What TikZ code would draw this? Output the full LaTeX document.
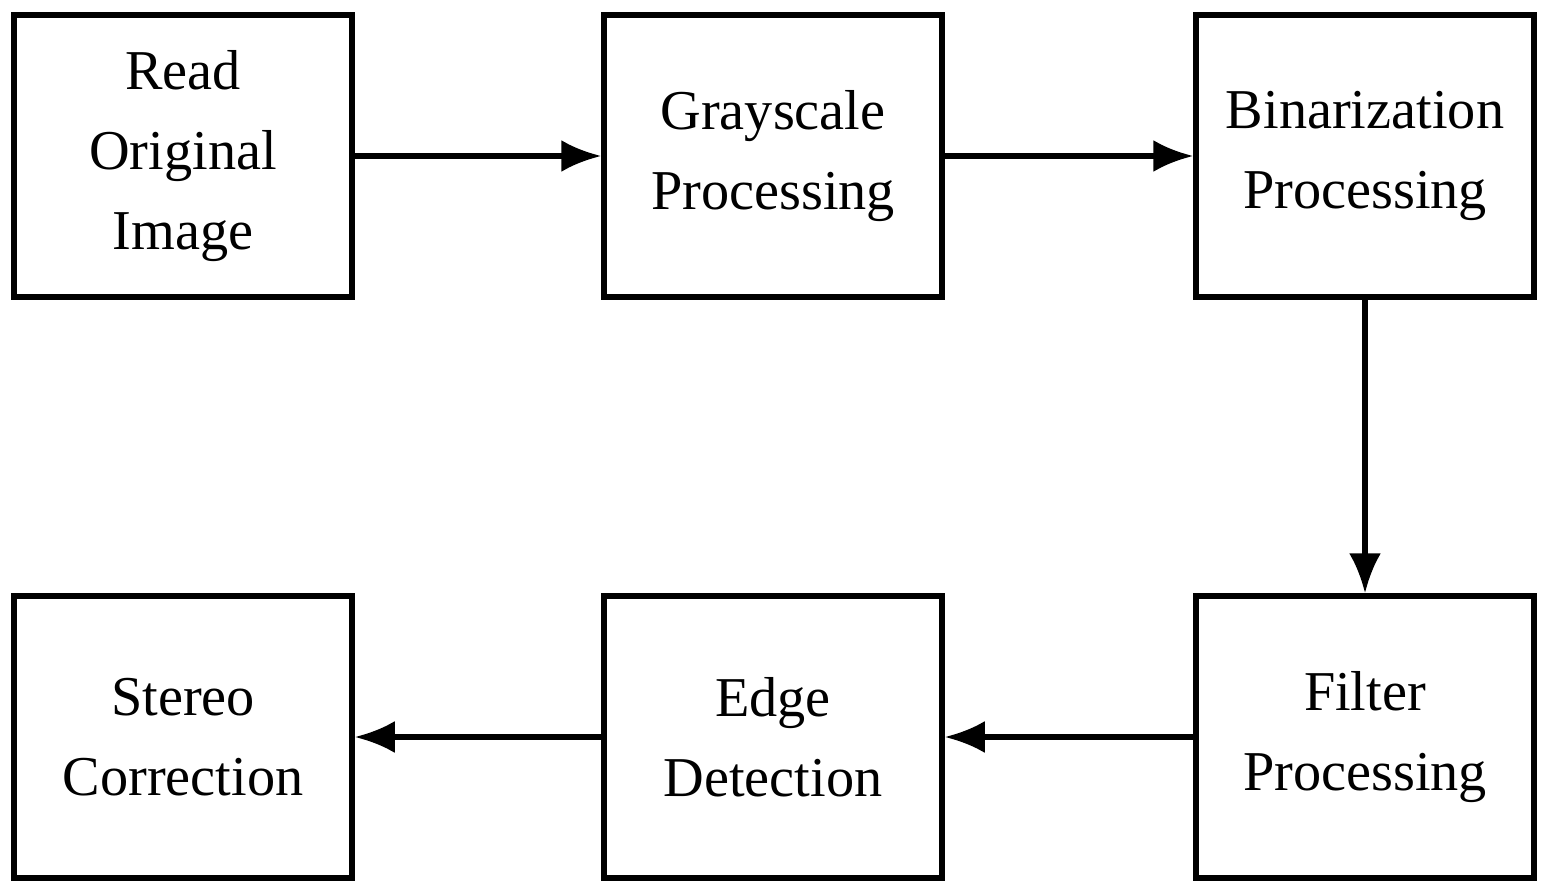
\documentclass[tikz,border=0pt]{standalone}
\usepackage{fontspec}
\setmainfont{Liberation Serif}
\usetikzlibrary{arrows.meta,positioning}

\begin{document}
\begin{tikzpicture}[x=0.01cm, y=-0.01cm,
                    every node/.style={font=\fontsize{16}{22.7}\selectfont},
                    block/.style={draw, line width=1.5pt, minimum width=3.38cm,
                                  minimum height=2.82cm, align=center, inner sep=0pt},
                    flow/.style={-{Latex[length=4mm,width=3.2mm]}, line width=1.5pt}]
   \useasboundingbox (0,0) rectangle (1549,894);

   \node[block] (read)   at (183, 156)  {Read\\Original\\Image};
   \node[block] (gray)   at (773, 156)  {Grayscale\\Processing};
   \node[block] (binar)  at (1365, 156) {Binarization\\Processing};
   \node[block] (filter) at (1365, 737) {Filter\\Processing};
   \node[block] (edge)   at (773, 737)  {Edge\\Detection};
   \node[block] (stereo) at (183, 737)  {Stereo\\Correction};

   % Define transitions
   \draw[flow] (read)   -- (gray);
   \draw[flow] (gray)   -- (binar);
   \draw[flow] (binar)  -- (filter);
   \draw[flow] (filter) -- (edge);
   \draw[flow] (edge)   -- (stereo);
\end{tikzpicture}
\end{document}
